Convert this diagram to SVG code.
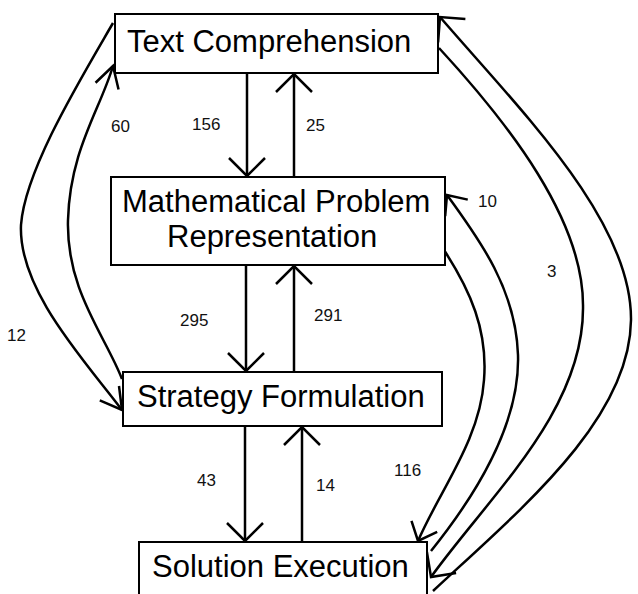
<svg xmlns="http://www.w3.org/2000/svg" width="638" height="594" viewBox="0 0 638 594">
<style>
.box{fill:#fff;stroke:#000;stroke-width:2}
.nt{font-family:"Liberation Sans",Arial,sans-serif;font-size:31px;fill:#000}
.lb{font-family:"Liberation Sans",Arial,sans-serif;font-size:17px;fill:#111}
.c{fill:none;stroke:#000;stroke-width:2.5}
</style>
<defs>
<marker id="m45" markerUnits="userSpaceOnUse" markerWidth="40" markerHeight="40" viewBox="-20 -20 40 40" refX="0" refY="0" orient="auto" overflow="visible">
<path d="M -18,-18 L 0,0 L -18,18" fill="none" stroke="#000" stroke-width="2.5"/>
</marker>
<marker id="m30" markerUnits="userSpaceOnUse" markerWidth="40" markerHeight="40" viewBox="-20 -20 40 40" refX="0" refY="0" orient="auto" overflow="visible">
<path d="M -21,-12 L 0,0 L -21,12" fill="none" stroke="#000" stroke-width="2.5"/>
</marker>
<marker id="m40" markerUnits="userSpaceOnUse" markerWidth="40" markerHeight="40" viewBox="-20 -20 40 40" refX="0" refY="0" orient="auto" overflow="visible">
<path d="M -16,-14 L 0,0 L -16,14" fill="none" stroke="#000" stroke-width="2.5"/>
</marker>
</defs>
<g id="connectors">
<line class="c" x1="247" y1="73" x2="247" y2="176" marker-end="url(#m45)"/>
<line class="c" x1="294" y1="177" x2="294" y2="74" marker-end="url(#m45)"/>
<line class="c" x1="246" y1="265" x2="246" y2="371" marker-end="url(#m45)"/>
<line class="c" x1="294" y1="372" x2="294" y2="266" marker-end="url(#m45)"/>
<line class="c" x1="245" y1="426" x2="245" y2="541" marker-end="url(#m45)"/>
<line class="c" x1="302" y1="542" x2="302" y2="427" marker-end="url(#m45)"/>
<path class="c" d="M 113,23 C 80,80 25,170 21,225 C 18,290 86,362 122,410" marker-end="url(#m30)"/>
<path class="c" d="M 122,379 C 105,335 66,290 68,220 C 70,150 100,110 113,66" marker-end="url(#m30)"/>
<path class="c" d="M 433,591 C 520,510 630,420 631,320 C 632,220 520,110 440,17" marker-end="url(#m45)"/>
<path class="c" d="M 439,48 C 510,125 583,220 583,305 C 585,410 490,495 431,577" marker-end="url(#m45)"/>
<path class="c" d="M 431,551 C 480,490 520,420 518,355 C 516,290 480,240 447,195" marker-end="url(#m40)"/>
<path class="c" d="M 444,250 C 470,290 488,330 484,380 C 480,440 440,490 418,541" marker-end="url(#m40)"/>
<text class="lb" x="192" y="130">156</text>
<text class="lb" x="306" y="131">25</text>
<text class="lb" x="111" y="132">60</text>
<text class="lb" x="478" y="207">10</text>
<text class="lb" x="547" y="277">3</text>
<text class="lb" x="7" y="341">12</text>
<text class="lb" x="180" y="326">295</text>
<text class="lb" x="314" y="321">291</text>
<text class="lb" x="197" y="486">43</text>
<text class="lb" x="316" y="491">14</text>
<text class="lb" x="394" y="476">116</text>
</g>
<g id="text-comprehension">
<rect class="box" x="115" y="14" width="323" height="59"/>
<text class="nt" x="127" y="52">Text Comprehension</text>
</g>
<g id="mathematical-problem-representation">
<rect class="box" x="111" y="177" width="334" height="88"/>
<text class="nt" x="122" y="212">Mathematical Problem</text>
<text class="nt" x="167" y="247">Representation</text>
</g>
<g id="strategy-formulation">
<rect class="box" x="123" y="372" width="319" height="54"/>
<text class="nt" x="137" y="407">Strategy Formulation</text>
</g>
<g id="solution-execution">
<rect class="box" x="139" y="542" width="288" height="60"/>
<text class="nt" x="152" y="577">Solution Execution</text>
</g>
</svg>
